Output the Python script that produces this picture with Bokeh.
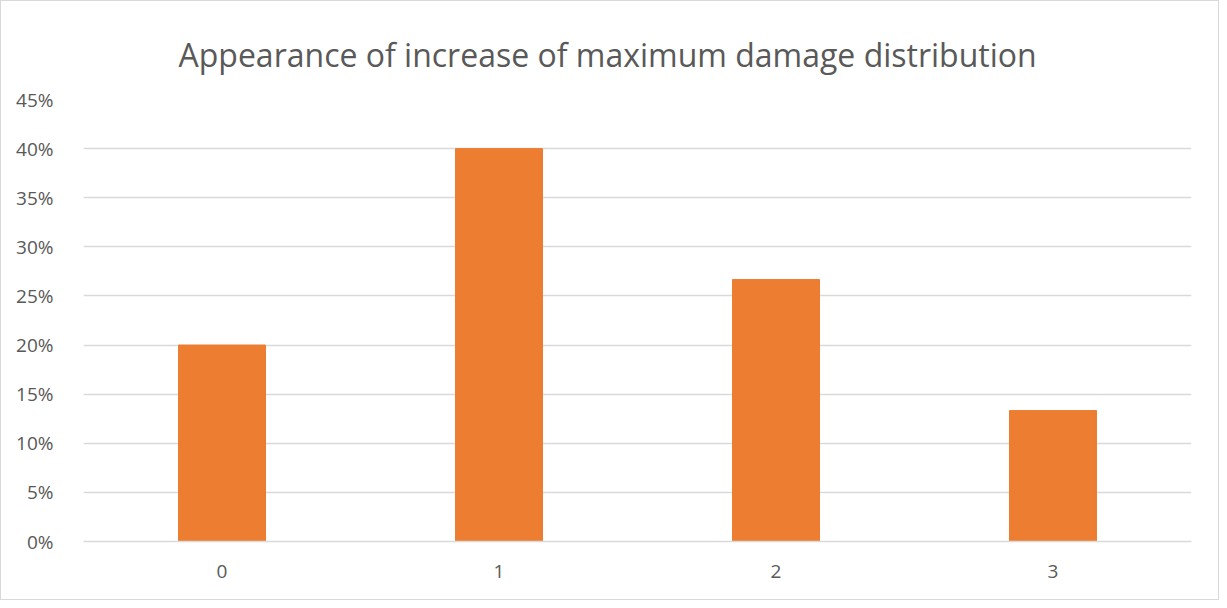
from bokeh.plotting import figure
from bokeh.models import FactorRange, Range1d, FixedTicker, NumeralTickFormatter, ColumnDataSource
from bokeh.embed import file_html
from bokeh.resources import INLINE

categories = ["0", "1", "2", "3"]
values = [0.20, 0.40, 0.2667, 0.1333]
y_ticks = [0, 0.05, 0.10, 0.15, 0.20, 0.25, 0.30, 0.35, 0.40, 0.45]
title_text = "Appearance of increase of maximum damage distribution"

FONT = "Open Sans"
TXT = "#595959"
GRID = "#d9d9d9"

src = ColumnDataSource(dict(cat=categories, val=values))

p = figure(width=1219, height=600, x_range=FactorRange(*categories, range_padding=0),
           y_range=Range1d(0, 0.45), output_backend="svg", toolbar_location=None,
           min_border_left=82, min_border_right=29, min_border_top=98, min_border_bottom=60)

p.vbar(x="cat", top="val", width=0.314, source=src, color="#ED7D31")

p.title.text = title_text
p.title.align = "left"
p.title.vertical_align = "top"
p.title.text_line_height = 0.5
p.title.text_font = FONT
p.title.text_font_size = "32px"
p.title.text_font_style = "normal"
p.title.text_color = TXT
p.title.standoff = 44
p.title.offset = 95

p.outline_line_color = None
p.xgrid.grid_line_color = None
p.ygrid.grid_line_color = GRID
p.ygrid.grid_line_width = 1.3
p.yaxis.ticker = FixedTicker(ticks=y_ticks)
p.yaxis.formatter = NumeralTickFormatter(format="0%")
p.yaxis.axis_line_color = None
p.xaxis.axis_line_color = GRID
p.xaxis.axis_line_width = 1.3
for ax in (p.xaxis, p.yaxis):
    ax.major_tick_line_color = None
    ax.minor_tick_line_color = None
    ax.major_label_text_font = FONT
    ax.major_label_text_font_size = "19px"
    ax.major_label_text_color = TXT
p.yaxis.major_label_standoff = 24
p.xaxis.major_label_standoff = 17
p.styles = {"border": "1px solid #d9d9d9"}

open("out.html", "w").write(file_html(p, INLINE))
